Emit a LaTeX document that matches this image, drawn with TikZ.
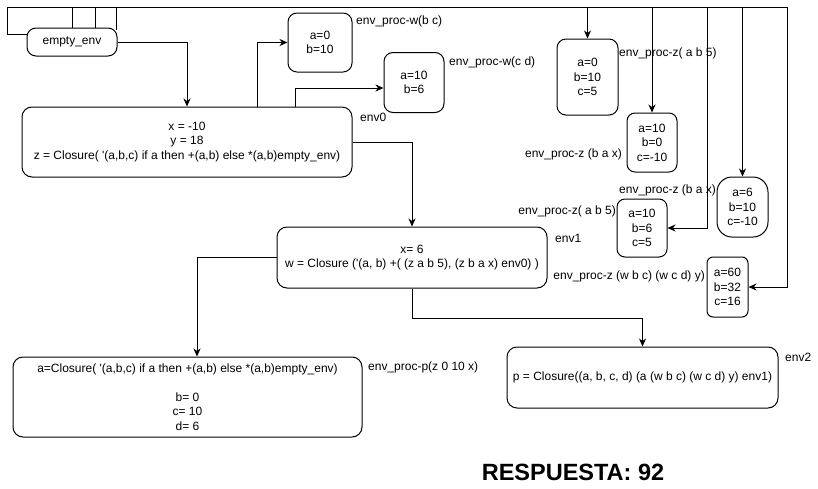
\documentclass[tikz,border=0pt]{standalone}
\usepackage{fontspec}
\setmainfont{Liberation Sans}[Ligatures=TeXOff]
\usetikzlibrary{arrows.meta,calc}
\begin{document}
\begin{tikzpicture}[x=1pt,y=-1pt,
  every node/.style={font=\fontsize{12}{14.4}\selectfont, inner sep=0pt},
  box/.style={draw, line width=1pt, rounded corners=9pt, align=center},
  lbl/.style={anchor=west},
  ln/.style={line width=1pt},
  arr/.style={line width=1pt, -{Stealth[length=8pt,width=7pt,inset=2.5pt]}}]
\useasboundingbox (0,0) rectangle (818,488);
% boxes
\node[box, minimum width=90pt, minimum height=28pt] (empty) at (72,42) {empty\_env};
\node[box, minimum width=330pt, minimum height=70pt, rounded corners=10pt] (env0) at (187,142)
  {x = -10\\y = 18\\z = Closure( '(a,b,c) if a then +(a,b) else *(a,b)empty\_env)};
\node[box, minimum width=270pt, minimum height=61pt, rounded corners=10pt] (env1) at (412,257.5)
  {x= 6\\w = Closure ('(a, b) +( (z a b 5), (z b a x) env0) )};
\node[box, minimum width=349pt, minimum height=80pt, rounded corners=10pt] (pbox) at (187.5,397)
  {a=Closure( '(a,b,c) if a then +(a,b) else *(a,b)empty\_env)\\~\\b= 0\\c= 10\\d= 6};
\node[box, minimum width=271pt, minimum height=61pt, rounded corners=10pt] (env2) at (642.5,377.5)
  {p = Closure((a, b, c, d) (a (w b c) (w c d) y) env1)};
\node[box, minimum width=64pt, minimum height=59pt] (wbc) at (320,42.5) {a=0\\b=10};
\node[box, minimum width=60pt, minimum height=60pt] (wcd) at (414,82.5) {a=10\\b=6};
\node[box, minimum width=61pt, minimum height=76pt] (z1) at (587.5,77) {a=0\\b=10\\c=5};
\node[box, minimum width=50pt, minimum height=59pt, rounded corners=8pt] (z2) at (652,142.5) {a=10\\b=0\\c=-10};
\node[box, minimum width=50pt, minimum height=58pt, rounded corners=8pt] (z3) at (642,228) {a=10\\b=6\\c=5};
\node[box, minimum width=51pt, minimum height=60pt, rounded corners=15pt] (z4) at (742.5,207) {a=6\\b=10\\c=-10};
\node[box, minimum width=41pt, minimum height=60pt, rounded corners=6pt] (z5) at (727.5,287) {a=60\\b=32\\c=16};
% labels
\node[lbl] (lwbc) at (356,21) {env\_proc-w(b c)};
\node[lbl] (lwcd) at (449,62) {env\_proc-w(c d)};
\node[lbl] (lenv0) at (360,117) {env0};
\node[lbl] (lz1) at (619,53) {env\_proc-z( a b 5)};
\node[anchor=east] (lz2) at (622,154) {env\_proc-z (b a x)};
\node[lbl] (lz4) at (619,190) {env\_proc-z (b a x)};
\node[anchor=east] (lz3) at (616,211) {env\_proc-z( a b 5)};
\node[lbl] (lenv1) at (555,238) {env1};
\node[anchor=east] (lz5) at (705,276) {env\_proc-z (w b c) (w c d) y)};
\node[lbl] (lp) at (368,367) {env\_proc-p(z 0 10 x)};
\node[lbl] (lenv2) at (785,357) {env2};
\node[font=\fontsize{23.5}{28}\selectfont\bfseries] (resp) at (573,472) {RESPUESTA: 92};
% helper coordinates
\coordinate (top) at (0,7);
\coordinate (r3) at (707,0);
\coordinate (r5) at (787,0);
% connectors
\draw[arr] (empty.east) -| (env0.north);
\draw[arr] ([xshift=70pt]env0.north) |- (wbc.west);
\draw[arr] ([xshift=108pt]env0.north) |- ([yshift=-5.5pt]wcd.west);
\draw[arr] (env0.east) -| (env1.north);
\draw[arr] (env1.west) -| ([xshift=9.5pt]pbox.north);
\draw[arr] (env1.south) -- ++(0,30) -| (env2.north);
\draw[arr] ([yshift=8pt]empty.west) -| (7,7) -| (z1.north);
\draw[arr] (empty.north) -- (empty.north |- top) -| (z2.north);
\draw[arr] ([xshift=23pt]empty.north) -- ([xshift=23pt]empty.north |- top) -| (r3 |- z3.east) -- (z3.east);
\draw[arr] ([xshift=44pt,yshift=-2pt]empty.north) -- ([xshift=44pt]empty.north |- top) -| (z4.north);
\draw[arr] ([xshift=44pt]empty.north |- top) -| (r5 |- z5.east) -- (z5.east);
\end{tikzpicture}
\end{document}
